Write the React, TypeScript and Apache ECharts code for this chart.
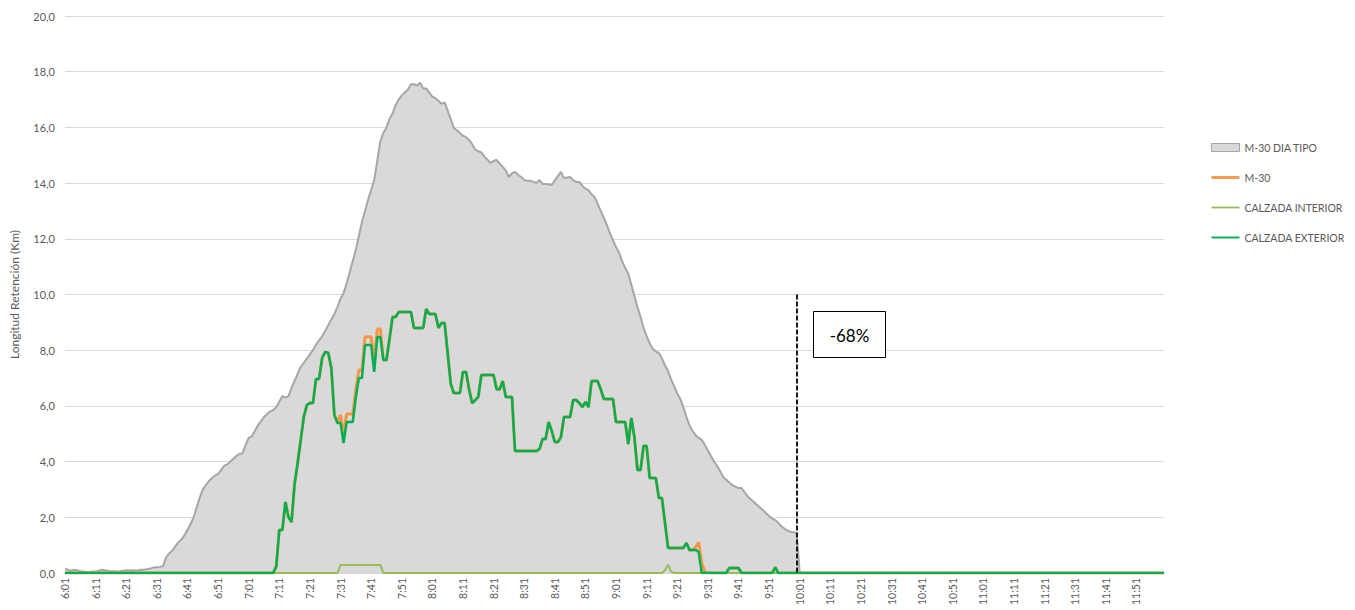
import React, { useEffect, useRef } from "react";
import * as echarts from "echarts";

// Categories: one per minute, 6:01 ... 12:00
const CATEGORIES: string[] = [];
for (let m = 6 * 60 + 1; m <= 12 * 60; m++) {
  CATEGORIES.push(`${Math.floor(m / 60)}:${String(m % 60).padStart(2, "0")}`);
}

const Y_MIN = 0;
const Y_MAX = 20;
const Y_STEP = 2;

// Values from 10:01 to 12:00 (all series read as zero there)
const ZERO_TAIL = [
  0,0,0,0,0,0,0,0,0,0, 0,0,0,0,0,0,0,0,0,0, 0,0,0,0,0,0,0,0,0,0,
  0,0,0,0,0,0,0,0,0,0, 0,0,0,0,0,0,0,0,0,0, 0,0,0,0,0,0,0,0,0,0,
  0,0,0,0,0,0,0,0,0,0, 0,0,0,0,0,0,0,0,0,0, 0,0,0,0,0,0,0,0,0,0,
  0,0,0,0,0,0,0,0,0,0, 0,0,0,0,0,0,0,0,0,0, 0,0,0,0,0,0,0,0,0,0,
];

// M-30 DIA TIPO, 6:01 ... 10:00
const DIA_TIPO = [
  0.15,0.12,0.08,0.12,0.10,0.06,0.05,0.04,0.04,0.05,
  0.05,0.08,0.12,0.10,0.08,0.06,0.06,0.05,0.06,0.08,
  0.10,0.09,0.10,0.09,0.10,0.12,0.12,0.14,0.16,0.20,
  0.21,0.22,0.24,0.55,0.70,0.80,0.95,1.10,1.20,1.35,
  1.55,1.75,2.00,2.35,2.70,3.00,3.15,3.30,3.40,3.50,
  3.55,3.70,3.85,3.90,4.00,4.10,4.20,4.28,4.30,4.60,
  4.85,4.90,5.10,5.30,5.45,5.60,5.70,5.80,5.85,5.95,
  6.15,6.35,6.30,6.35,6.65,6.90,7.15,7.40,7.55,7.70,
  7.85,8.00,8.20,8.35,8.50,8.70,8.90,9.10,9.30,9.55,
  9.85,10.05,10.40,10.80,11.20,11.60,12.10,12.60,13.00,13.40,
  13.75,14.10,14.80,15.50,15.80,16.00,16.30,16.50,16.80,17.00,
  17.15,17.25,17.35,17.55,17.55,17.50,17.60,17.40,17.40,17.25,
  17.10,17.05,16.95,16.85,16.90,16.60,16.30,15.98,15.90,15.80,
  15.70,15.65,15.55,15.40,15.20,15.15,15.10,14.95,14.85,14.72,
  14.80,14.83,14.70,14.58,14.45,14.22,14.35,14.40,14.30,14.22,
  14.11,14.08,14.08,14.05,14.00,14.11,13.97,13.97,13.95,13.93,
  14.10,14.25,14.40,14.18,14.20,14.22,14.10,14.04,14.04,13.90,
  13.80,13.75,13.60,13.50,13.25,13.00,12.75,12.50,12.20,11.95,
  11.70,11.50,11.20,10.95,10.75,10.35,9.95,9.55,9.20,8.80,
  8.50,8.25,8.05,7.95,7.90,7.70,7.45,7.25,6.95,6.70,
  6.45,6.25,5.95,5.60,5.30,5.10,4.95,4.85,4.78,4.60,
  4.40,4.20,4.00,3.85,3.65,3.45,3.35,3.25,3.15,3.10,
  3.05,3.05,2.90,2.75,2.65,2.55,2.45,2.35,2.25,2.15,
  2.05,1.95,1.90,1.80,1.68,1.60,1.52,1.48,1.46,1.44,
];

// CALZADA EXTERIOR, 6:01 ... 10:00
const EXTERIOR = [
  0,0,0,0,0,0,0,0,0,0, 0,0,0,0,0,0,0,0,0,0,
  0,0,0,0,0,0,0,0,0,0, 0,0,0,0,0,0,0,0,0,0,
  0,0,0,0,0,0,0,0,0,0, 0,0,0,0,0,0,0,0,0,0,
  0,0,0,0,0,0,0,0,0,0.23,
  1.54,1.54,2.55,2.0,1.83,3.2,3.95,4.78,5.6,6.03,
  6.1,6.1,6.97,6.97,7.72,7.94,7.9,7.36,5.67,5.39,
  5.39,4.67,5.42,5.42,5.42,6.3,7.0,7.0,8.19,8.19,
  8.19,7.22,8.47,8.47,7.65,7.65,8.4,9.19,9.19,9.37,
  9.37,9.37,9.37,9.37,8.8,8.8,8.8,8.8,9.48,9.3,
  9.3,9.3,8.8,8.98,8.98,7.9,6.8,6.46,6.46,6.46,
  7.22,7.22,6.6,6.1,6.21,6.32,7.11,7.11,7.11,7.11,
  7.11,6.6,6.6,6.89,6.32,6.32,6.32,4.38,4.38,4.38,
  4.38,4.38,4.38,4.38,4.38,4.45,4.81,4.81,5.42,5.1,
  4.7,4.7,4.88,5.6,5.6,5.6,6.21,6.21,6.1,5.96,
  6.14,5.96,6.89,6.89,6.89,6.6,6.25,6.25,6.25,6.25,
  5.42,5.42,5.42,5.42,4.63,5.57,4.88,3.7,3.7,4.56,
  4.56,3.41,3.41,3.41,2.69,2.69,1.8,0.9,0.9,0.9,
  0.9,0.9,0.9,1.08,0.83,0.83,0.83,0.75,0,0,
  0,0,0,0,0,0,0,0.18,0.18,0.18,
  0.18,0,0,0,0,0,0,0,0,0,
  0,0,0.2,0,0,0,0,0,0,0,
];

// CALZADA INTERIOR, 6:01 ... 10:00
const INTERIOR = [
  0,0,0,0,0,0,0,0,0,0, 0,0,0,0,0,0,0,0,0,0,
  0,0,0,0,0,0,0,0,0,0, 0,0,0,0,0,0,0,0,0,0,
  0,0,0,0,0,0,0,0,0,0, 0,0,0,0,0,0,0,0,0,0,
  0,0,0,0,0,0,0,0,0,0, 0,0,0,0,0,0,0,0,0,0,
  0,0,0,0,0,0,0,0,0,0,
  0.29,0.29,0.29,0.29,0.29,0.29,0.29,0.29,0.29,0.29,
  0.29,0.29,0.29,0.29,0,0,0,0,0,0,
  0,0,0,0,0,0,0,0,0,0, 0,0,0,0,0,0,0,0,0,0,
  0,0,0,0,0,0,0,0,0,0, 0,0,0,0,0,0,0,0,0,0,
  0,0,0,0,0,0,0,0,0,0, 0,0,0,0,0,0,0,0,0,0,
  0,0,0,0,0,0,0,0,0,0, 0,0,0,0,0,0,0,0,0,0,
  0,0,0,0,0,0,0.1,0.3,0.05,0,
  0,0,0,0,0,0,0,0,0,0, 0,0,0,0,0,0,0,0,0,0,
  0,0,0,0,0,0,0,0,0,0,
];

// M-30, 6:01 ... 10:00
const M30 = [
  0,0,0,0,0,0,0,0,0,0, 0,0,0,0,0,0,0,0,0,0,
  0,0,0,0,0,0,0,0,0,0, 0,0,0,0,0,0,0,0,0,0,
  0,0,0,0,0,0,0,0,0,0, 0,0,0,0,0,0,0,0,0,0,
  0,0,0,0,0,0,0,0,0,0.23,
  1.54,1.54,2.55,2.0,1.83,3.2,3.95,4.78,5.6,6.03,
  6.1,6.1,6.97,6.97,7.72,7.94,7.9,7.36,5.67,5.39,
  5.68,4.96,5.71,5.71,5.71,6.59,7.29,7.29,8.48,8.48,
  8.48,7.51,8.76,8.76,7.65,7.65,8.4,9.19,9.19,9.37,
  9.37,9.37,9.37,9.37,8.8,8.8,8.8,8.8,9.48,9.3,
  9.3,9.3,8.8,8.98,8.98,7.9,6.8,6.46,6.46,6.46,
  7.22,7.22,6.6,6.1,6.21,6.32,7.11,7.11,7.11,7.11,
  7.11,6.6,6.6,6.89,6.32,6.32,6.32,4.38,4.38,4.38,
  4.38,4.38,4.38,4.38,4.38,4.45,4.81,4.81,5.42,5.1,
  4.7,4.7,4.88,5.6,5.6,5.6,6.21,6.21,6.1,5.96,
  6.14,5.96,6.89,6.89,6.89,6.6,6.25,6.25,6.25,6.25,
  5.42,5.42,5.42,5.42,4.63,5.57,4.88,3.7,3.7,4.56,
  4.56,3.41,3.41,3.41,2.69,2.69,1.8,0.9,0.9,0.9,
  0.9,0.9,0.9,1.08,0.83,0.83,0.93,1.1,0.35,0.05,
  0,0,0,0,0,0,0,0.18,0.18,0.18,
  0.18,0,0,0,0,0,0,0,0,0,
  0,0,0.2,0,0,0,0,0,0,0,
];

const MARK_CATEGORY = "10:00";
const MARK_TOP = 10;
const ANNOTATION = "-68%";

const FONT = "Lato, 'Open Sans', sans-serif";
const TEXT_COLOR = "#595959";

export default function App() {
  const ref = useRef<HTMLDivElement>(null);

  useEffect(() => {
    if (!ref.current) return;
    const chart = echarts.init(ref.current, undefined, { renderer: "svg" });
    const lineSeries = (name: string, data: number[], color: string, width: number, z: number) => ({
      name,
      type: "line",
      data,
      symbol: "none",
      showSymbol: false,
      z,
      lineStyle: { color, width },
      itemStyle: { color },
    });
    chart.setOption({
      animation: false,
      textStyle: { fontFamily: FONT },
      grid: { left: 62, right: 191, top: 16, bottom: 37, containLabel: false },
      legend: {
        orient: "vertical",
        left: 1211,
        top: 142,
        padding: 0,
        itemWidth: 28,
        itemHeight: 8,
        itemGap: 19,
        selectedMode: false,
        textStyle: { fontSize: 10.5, color: TEXT_COLOR, fontFamily: FONT },
        data: [
          { name: "M-30 DIA TIPO", icon: "rect", itemStyle: { color: "#d9d9d9", borderColor: "#a6a6a6", borderWidth: 1 } },
          { name: "M-30", icon: "path://M0,0H30V3H0Z", itemStyle: { color: "#f79646", borderWidth: 0 } },
          { name: "CALZADA INTERIOR", icon: "path://M0,0H30V2H0Z", itemStyle: { color: "#9bbb59", borderWidth: 0 } },
          { name: "CALZADA EXTERIOR", icon: "path://M0,0H30V2H0Z", itemStyle: { color: "#00b050", borderWidth: 0 } },
        ],
      },
      xAxis: {
        type: "category",
        data: CATEGORIES,
        boundaryGap: false,
        axisLine: { show: true, lineStyle: { color: "#d9d9d9" } },
        axisTick: { show: false },
        axisLabel: {
          interval: 9,
          rotate: 90,
          fontSize: 10.5,
          color: TEXT_COLOR,
          fontFamily: FONT,
          margin: 5,
        },
        splitLine: { show: false },
      },
      yAxis: {
        type: "value",
        min: Y_MIN,
        max: Y_MAX,
        interval: Y_STEP,
        name: "Longitud Retención (Km)",
        nameLocation: "middle",
        nameGap: 45,
        nameRotate: 90,
        nameTextStyle: { fontSize: 12, color: TEXT_COLOR, fontFamily: FONT },
        axisLine: { show: false },
        axisTick: { show: false },
        axisLabel: {
          fontSize: 11,
          color: TEXT_COLOR,
          fontFamily: FONT,
          margin: 10,
          formatter: (v: number) => v.toFixed(1).replace(".", ","),
        },
        splitLine: { lineStyle: { color: "#d9d9d9", width: 1 } },
      },
      series: [
        {
          name: "M-30 DIA TIPO",
          type: "line",
          data: DIA_TIPO.concat(ZERO_TAIL),
          symbol: "none",
          showSymbol: false,
          z: 1,
          lineStyle: { color: "#a6a6a6", width: 2 },
          itemStyle: { color: "#d9d9d9", borderColor: "#a6a6a6" },
          areaStyle: { color: "#d9d9d9", opacity: 1 },
        },
        lineSeries("M-30", M30.concat(ZERO_TAIL), "#f79646", 3, 2),
        lineSeries("CALZADA INTERIOR", INTERIOR.concat(ZERO_TAIL), "#9bbb59", 2, 3),
        {
          ...lineSeries("CALZADA EXTERIOR", EXTERIOR.concat(ZERO_TAIL), "#00b050", 2.5, 4),
          markLine: {
            silent: true,
            symbol: "none",
            label: { show: false },
            lineStyle: { color: "#1a1a1a", type: [5, 2], width: 2 },
            data: [[{ coord: [MARK_CATEGORY, MARK_TOP] }, { coord: [MARK_CATEGORY, 0] }]],
          },
        },
      ],
      graphic: [
        {
          type: "rect",
          shape: { x: 813.5, y: 311.5, width: 72, height: 46 },
          style: { fill: "#ffffff", stroke: "#000000", lineWidth: 1 },
          z: 100,
        },
        {
          type: "text",
          x: 849.5,
          y: 335,
          z: 101,
          style: {
            text: ANNOTATION,
            fill: "#000000",
            fontSize: 17,
            fontFamily: FONT,
            align: "center",
            verticalAlign: "middle",
          },
        },
      ],
    });
    return () => chart.dispose();
  }, []);

  return (
    <div
      ref={ref}
      style={{ position: "absolute", left: 0, top: 0, width: 1355, height: 610 }}
    />
  );
}
